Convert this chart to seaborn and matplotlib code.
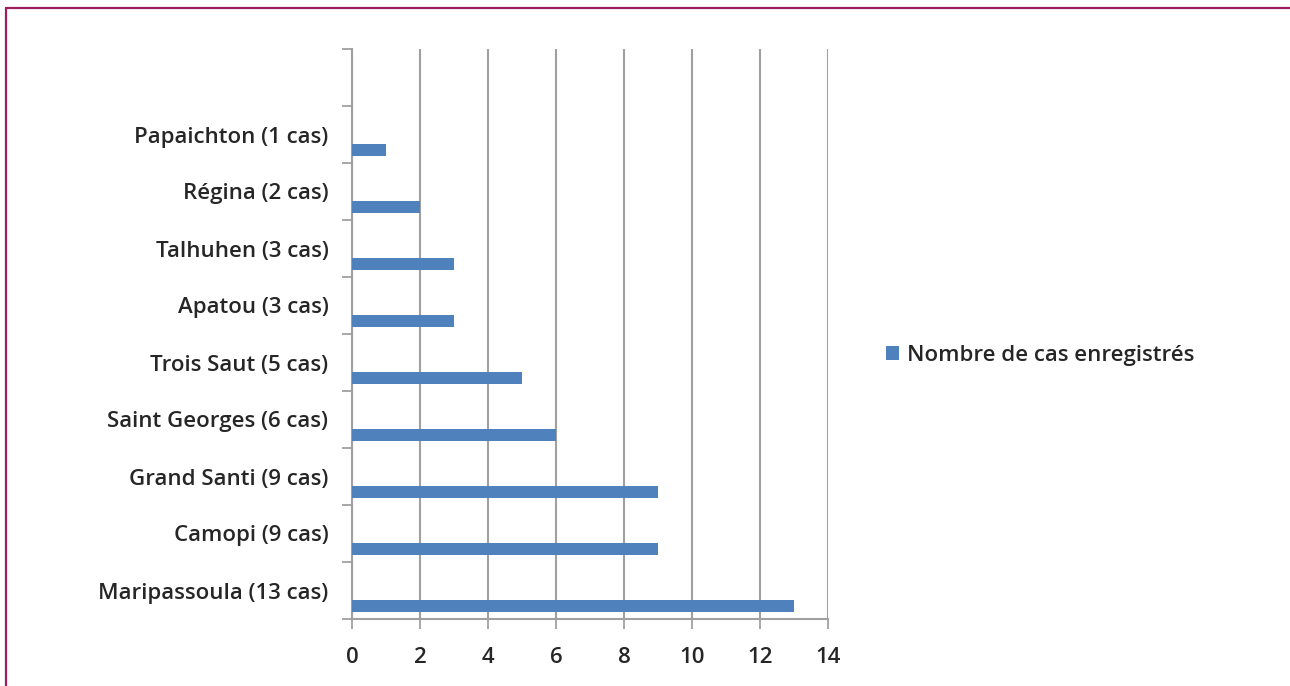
import matplotlib
matplotlib.use("Agg")
import matplotlib.pyplot as plt
from matplotlib.lines import Line2D
from matplotlib.patches import Patch
import seaborn as sns
import pandas as pd
import numpy as np

categories = ["Papaichton (1 cas)", "Régina (2 cas)", "Talhuhen (3 cas)", "Apatou (3 cas)",
              "Trois Saut (5 cas)", "Saint Georges (6 cas)", "Grand Santi (9 cas)",
              "Camopi (9 cas)", "Maripassoula (13 cas)"]
values = [1, 2, 3, 3, 5, 6, 9, 9, 13]
series_name = "Nombre de cas enregistrés"
x_ticks = [0, 2, 4, 6, 8, 10, 12, 14]

sns.set_theme(style="white")
plt.rcParams['font.family'] = ['Open Sans', 'DejaVu Sans']

BAR = "#4f81bd"
GRID = "#a0a0a0"
TXT = "#262626"
FS = 16
WEIGHT = "semibold"

df = pd.DataFrame({"cat": categories, "val": values})

fig = plt.figure(figsize=(12.9, 6.86), dpi=100)
ax = fig.add_axes([352/1290, 1-619/686, (828-352)/1290, (619-49)/686])

sns.barplot(data=df, x="val", y="cat", order=categories, orient="h",
            color=BAR, saturation=1, width=0.21, ax=ax, zorder=3, linewidth=0)

n = len(categories)
off = 0.27
ax.set_ylim(n - 1 + 0.5 - off, -1.5 - off)
ax.set_xlim(0, 14)

# category labels centered in slots, bars at bottom of each slot
ax.set_yticks([i - off for i in range(n)])
ax.set_yticklabels(categories)
ax.set_yticks([i - off + 0.5 for i in range(-2, n)], minor=True)
ax.tick_params(axis="y", which="major", length=0, pad=17, labelsize=FS, labelcolor=TXT)
ax.tick_params(axis="y", which="minor", left=True, length=7, width=1.3, color=GRID)

ax.set_xticks(x_ticks)
ax.tick_params(axis="x", which="major", bottom=True, length=7, width=1.3, color=GRID,
               labelsize=FS, labelcolor=TXT, pad=13)
for t in ax.get_yticklabels() + ax.get_xticklabels():
    t.set_fontweight(WEIGHT)

ax.grid(axis="x", color=GRID, linewidth=1.5, zorder=0)
ax.grid(axis="y", visible=False)
ax.set_xlabel("")
ax.set_ylabel("")
for s in ["top", "right"]:
    ax.spines[s].set_visible(False)
for s in ["left", "bottom"]:
    ax.spines[s].set_color(GRID)
    ax.spines[s].set_linewidth(1.5)

handle = Patch(facecolor=BAR, edgecolor="none")
fig.legend([handle], [series_name], loc="center left",
           bbox_to_anchor=(886/1290, 1-355/686), frameon=False,
           handlelength=0.6, handleheight=0.6, handletextpad=0.35,
           prop={"size": FS, "weight": WEIGHT}, labelcolor=TXT, borderpad=0, borderaxespad=0)

# frame border (top and left)
border = "#9c1f5c"
fig.add_artist(Line2D([6/1290, 1], [1-8/686, 1-8/686], color=border, linewidth=1.6,
                      transform=fig.transFigure))
fig.add_artist(Line2D([6/1290, 6/1290], [0, 1-8/686], color=border, linewidth=1.6,
                      transform=fig.transFigure))

fig.savefig("out.png", dpi=100, facecolor="white")
